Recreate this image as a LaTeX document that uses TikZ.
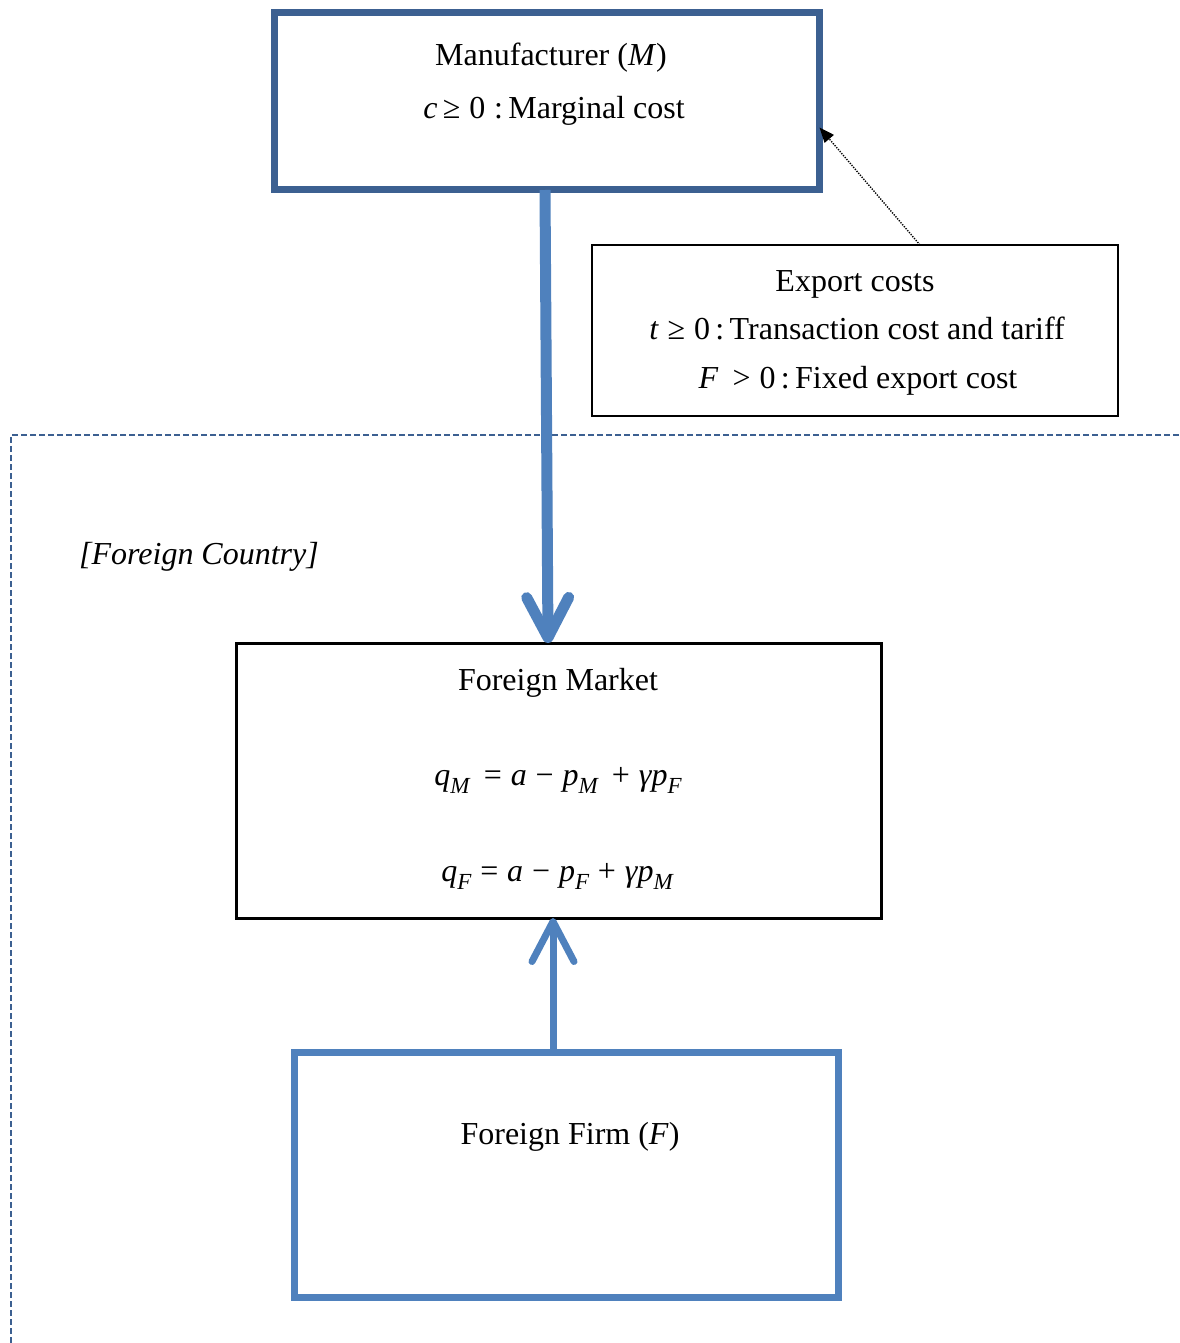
\documentclass[tikz,border=0pt]{standalone}
\usepackage{fontspec}
\setmainfont{Liberation Serif}
\usetikzlibrary{arrows.meta,calc}
\definecolor{darkblue}{RGB}{60,96,145}
\definecolor{lightblue}{RGB}{79,129,189}
\newcommand{\mysub}[1]{\raisebox{-0.28em}{\fontsize{23}{23}\selectfont\itshape #1}}
\begin{document}
\begin{tikzpicture}[x=1pt,y=-1pt,
  every node/.style={font=\fontsize{32}{38}\selectfont, inner sep=0pt, outer sep=0pt},
  box/.style={draw, rectangle, minimum width=#1, anchor=center},
  txt/.style={anchor=base},
  bigarrow/.style={draw=lightblue, line width=11pt, -{Straight Barb[length=40pt,width=42pt,round]}},
  medarrow/.style={draw=lightblue, line width=7pt, -{Straight Barb[length=40pt,width=42pt,round]}},
  dotarrow/.style={draw=black, line width=1.4pt, dash pattern=on 1.3pt off 1.3pt, -{Triangle[length=15pt,width=12pt]}},
  region/.style={draw=darkblue, line width=2pt, dash pattern=on 6pt off 3pt}
]
\useasboundingbox (0,0) rectangle (1179,1343);
% foreign country region
\coordinate (rtop) at (1179,435);
\coordinate (rcorner) at (11,435);
\coordinate (rbot) at (11,1343);
\draw[region] (rtop) -- (rcorner) -- (rbot);

% boxes
\node[box=545pt, minimum height=177pt, draw=darkblue, line width=7pt] (M) at (547,101.5) {};
\node[box=526pt, minimum height=171pt, draw=black, line width=1.2pt] (EC) at (855,330.5) {};
\node[box=645pt, minimum height=275pt, draw=black, line width=3pt] (FM) at (558.5,780.5) {};
\node[box=544pt, minimum height=245pt, draw=lightblue, line width=7pt] (FF) at (566,1174.5) {};

% texts
\node[txt] (mt1) at (551,66) {Manufacturer (\textit{M})};
\node[txt] (mt2) at (554,119) {\textit{c}\,≥\;0\;:\,Marginal cost};
\node[txt] (ec1) at (855,291) {Export costs};
\node[txt] (ec2) at (857,339) {\textit{t}\;≥\;0\,:\,Transaction cost and tariff};
\node[txt] (ec3) at (858,388) {\textit{F}\;\,>\;0\,:\,Fixed export cost};
\node[txt] (fc) at (199,564) {\textit{[Foreign Country]}};
\node[txt] (fm1) at (558,690) {Foreign Market};
\node[txt] (fm2) at (558,785) {\textit{q}\mysub{M}\;\,=\;\textit{a}\;−\;\textit{p}\mysub{M}\;\,+\;\textit{γp}\mysub{F}};
\node[txt] (fm3) at (557,881) {\textit{q}\mysub{F}\;=\;\textit{a}\;−\;\textit{p}\mysub{F}\;+\;\textit{γp}\mysub{M}};
\node[txt] (ff1) at (570,1144) {Foreign Firm (\textit{F})};

% connectors
\draw[bigarrow] ([xshift=-2pt]M.south) -- ([xshift=-10.5pt]FM.north);
\draw[medarrow] ([xshift=-13pt]FF.north) -- ([xshift=-5.5pt]FM.south);
\draw[dotarrow] ([xshift=65pt]EC.north) -- ([yshift=-26pt]M.east);
\end{tikzpicture}
\end{document}
